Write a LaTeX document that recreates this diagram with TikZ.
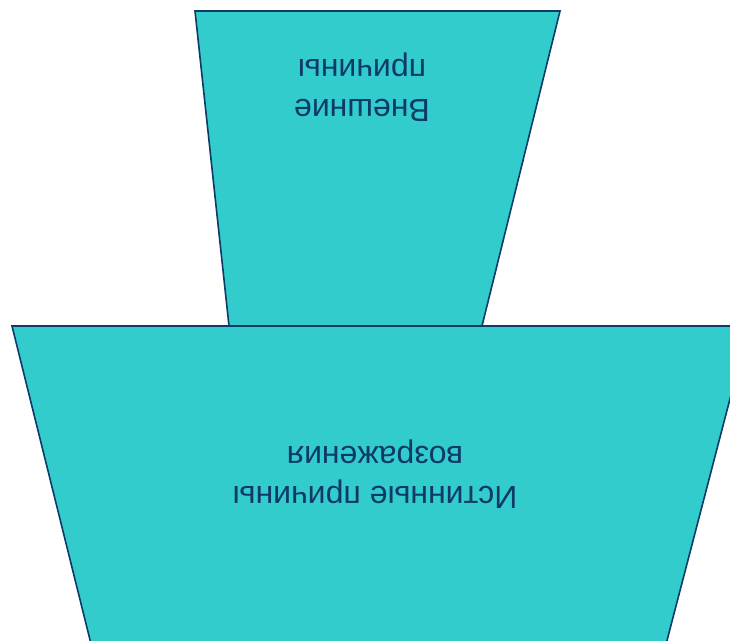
\documentclass[tikz,border=0pt]{standalone}
\usepackage{fontspec}
\setmainfont{Liberation Sans}
\usetikzlibrary{positioning}
\definecolor{c1}{HTML}{33CCCC}
\definecolor{c2}{HTML}{0E3A68}

\begin{document}
\begin{tikzpicture}[
    x=1pt, y=-1pt,
    every node/.style={font=\fontsize{32}{40}\selectfont},
    slab/.style={fill=c1, draw=c2, line width=1.6pt, line join=miter},
    caption/.style={text=c2, align=center, rotate=180},
]
\useasboundingbox (0,0) rectangle (730,640);
\clip (0,0) rectangle (730,640);

% the upper piece
\draw[slab] (195,11) -- (560,11) -- (482,326) -- (229,326) -- cycle;
\node[caption] (outer) at (362,87) {Внешние\\причины};

% the wide piece, running off the page
\draw[slab] (12,326) -- (749,326) -- (664,652) -- (93,652) -- cycle;
\node[caption] (inner) at (375,474) {Истинные причины\\возражения};
\end{tikzpicture}
\end{document}
